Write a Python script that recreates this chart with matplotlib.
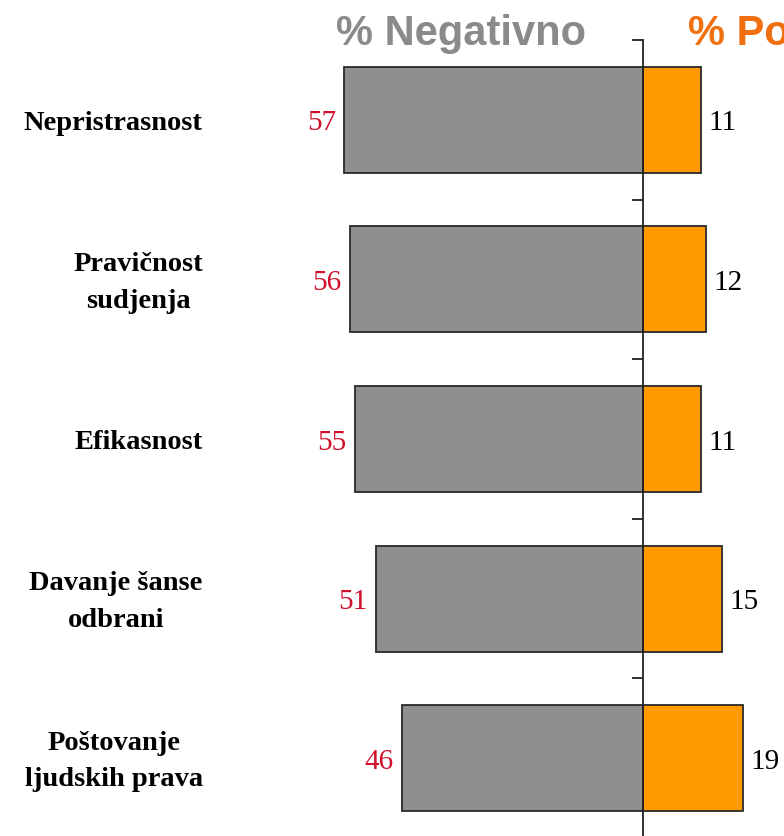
import matplotlib
matplotlib.use("Agg")
import matplotlib.pyplot as plt
import numpy as np

categories = ["Nepristrasnost", "Pravičnost\nsudjenja", "Efikasnost",
              "Davanje šanse\nodbrani", "Poštovanje\nljudskih prava"]
negative = [57, 56, 55, 51, 46]
positive = [11, 12, 11, 15, 19]
header_neg = "% Negativno"
header_pos = "% Pozitivno"

W, H = 784, 836
fig = plt.figure(figsize=(W / 100, H / 100), dpi=100)
fig.patch.set_facecolor("white")

axis_x = 643.0
ppu = 5.24
top_px, bot_px = 40.0, 838.0
ax = fig.add_axes([0, (H - bot_px) / H, 1, (bot_px - top_px) / H])
ax.set_xlim(-axis_x / ppu, (W - axis_x) / ppu)
n = len(categories)
ax.set_ylim(n - 0.5, -0.5)

y = np.arange(n)
bh = 0.665
ax.barh(y, [-v for v in negative], height=bh, color="#8f8f8f",
        edgecolor="#2a2a2a", linewidth=1.3, zorder=2)
ax.barh(y, positive, height=bh, color="#ff9900",
        edgecolor="#2a2a2a", linewidth=1.3, zorder=2)

dy = 0.022
for i, (nv, pv) in enumerate(zip(negative, positive)):
    ax.text(-nv - 1.6, i + dy, str(nv), ha="right", va="center", color="#d0102a",
            fontsize=21, family="Liberation Serif")
    ax.text(pv + 1.5, i + dy, str(pv), ha="left", va="center", color="black",
            fontsize=21, family="Liberation Serif")
    ax.text(-84.0, i + dy, categories[i], ha="right", va="center",
            multialignment="center", fontsize=20.5, fontweight="bold",
            family="Liberation Serif", linespacing=1.6)

for s in ["top", "right", "bottom"]:
    ax.spines[s].set_visible(False)
ax.spines["left"].set_position(("data", 0))
ax.spines["left"].set_color("#222222")
ax.spines["left"].set_linewidth(1.3)
ax.set_xticks([])
ax.set_yticks(np.arange(n + 1) - 0.5)
ax.set_yticklabels([])
ax.tick_params(axis="y", direction="out", length=8, width=1.3, color="#222222")
ax.patch.set_alpha(0)

fig.text(336 / W, 1 - 34 / H, header_neg, ha="left", va="center",
         fontsize=30, fontweight="bold", color="#8a8a8a", family="Liberation Sans")
fig.text(688 / W, 1 - 34 / H, header_pos, ha="left", va="center",
         fontsize=30, fontweight="bold", color="#f07010", family="Liberation Sans")

fig.savefig("out.png", dpi=100)
